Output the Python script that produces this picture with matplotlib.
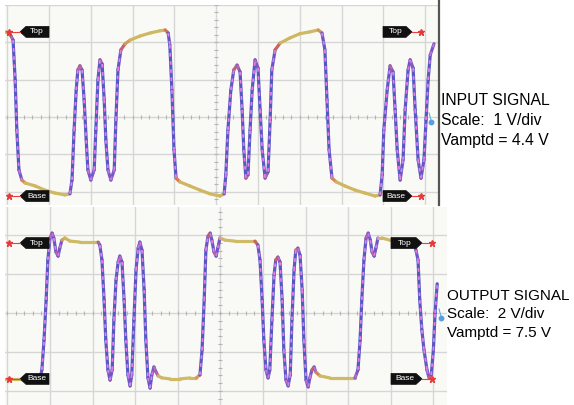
import numpy as np
import matplotlib.pyplot as plt
from matplotlib.collections import LineCollection
from matplotlib.colors import LinearSegmentedColormap, to_rgba
from matplotlib.patches import Polygon
from matplotlib.lines import Line2D
from matplotlib.transforms import IdentityTransform

# input trace: time in divisions, volts (1 V/div)
in_t = [-0.05, 0.02, 0.09, 0.14, 0.19, 0.23, 0.28, 0.35, 0.43, 0.67, 0.90, 1.14, 1.38, 1.50,
        1.55, 1.60, 1.65, 1.69, 1.74, 1.79, 1.84, 1.89, 1.93, 2.00, 2.08, 2.12, 2.17, 2.22,
        2.27, 2.32, 2.36, 2.41, 2.48, 2.56, 2.60, 2.65, 2.72, 2.82, 2.94, 3.18, 3.42, 3.66,
        3.78, 3.85, 3.89, 3.94, 3.99, 4.04, 4.13, 4.37, 4.61, 4.85, 5.09, 5.19, 5.23, 5.28,
        5.35, 5.42, 5.50, 5.57, 5.62, 5.66, 5.71, 5.76, 5.81, 5.86, 5.93, 6.00, 6.05, 6.10,
        6.17, 6.24, 6.29, 6.33, 6.41, 6.53, 6.77, 7.00, 7.24, 7.44, 7.53, 7.60, 7.65, 7.70,
        7.77, 7.87, 8.08, 8.32, 8.56, 8.80, 8.92, 8.97, 9.01, 9.09, 9.16, 9.23, 9.28, 9.33,
        9.40, 9.47, 9.52, 9.59, 9.64, 9.71, 9.76, 9.83, 9.90, 9.97, 10.02, 10.07, 10.12, 10.21]
in_v = [2.28, 2.25, 2.17, 2.06, 0.99, -0.35, -1.42, -1.69, -1.77, -1.85, -1.96, -2.04, -2.09, -2.06,
        -1.69, -0.35, 0.72, 1.26, 1.37, 1.26, 0.46, -0.62, -1.42, -1.69, -1.42, -0.35, 0.99, 1.53,
        1.42, 0.46, -0.62, -1.42, -1.69, -1.42, -0.08, 1.26, 1.80, 1.96, 2.06, 2.17, 2.25, 2.31,
        2.33, 2.25, 1.93, 0.72, -0.88, -1.64, -1.74, -1.85, -1.96, -2.06, -2.12, -2.06, -1.55, -0.35,
        0.72, 1.26, 1.39, 1.21, 0.19, -0.88, -1.64, -1.55, -0.35, 0.72, 1.53, 1.31, 0.19, -0.88,
        -1.64, -1.47, -0.08, 1.26, 1.80, 1.98, 2.12, 2.23, 2.28, 2.33, 2.25, 1.80, 0.46, -0.88,
        -1.64, -1.74, -1.85, -1.96, -2.04, -2.12, -2.09, -1.55, -0.35, 0.72, 1.37, 1.21, 0.19, -0.88,
        -1.69, -1.15, 0.19, 1.26, 1.53, 1.31, 0.19, -1.15, -1.64, -1.15, -0.08, 0.99, 1.66, 1.96]

# output trace: time in divisions, volts (2 V/div)
out_t = [-0.06, 0.53, 0.77, 0.81, 0.86, 0.91, 0.95, 1.00, 1.05, 1.09, 1.14, 1.19, 1.23, 1.28,
         1.35, 1.47, 1.70, 1.94, 2.13, 2.17, 2.22, 2.27, 2.31, 2.36, 2.41, 2.46, 2.50, 2.55,
         2.60, 2.64, 2.69, 2.74, 2.78, 2.83, 2.88, 2.92, 2.97, 3.02, 3.07, 3.11, 3.16, 3.21,
         3.25, 3.30, 3.35, 3.39, 3.44, 3.49, 3.54, 3.63, 3.82, 4.05, 4.29, 4.43, 4.52, 4.57,
         4.62, 4.66, 4.71, 4.76, 4.80, 4.85, 4.90, 4.94, 4.99, 5.11, 5.34, 5.58, 5.81, 5.88,
         5.93, 5.98, 6.02, 6.07, 6.12, 6.16, 6.21, 6.26, 6.30, 6.35, 6.40, 6.45, 6.49, 6.54,
         6.59, 6.64, 6.68, 6.73, 6.77, 6.82, 6.87, 6.92, 6.96, 7.01, 7.06, 7.10, 7.15, 7.20,
         7.24, 7.34, 7.57, 7.81, 8.04, 8.16, 8.23, 8.28, 8.32, 8.37, 8.42, 8.47, 8.52, 8.56,
         8.61, 8.65, 8.70, 8.79, 8.98, 9.45, 9.54, 9.59, 9.64, 9.68, 9.73, 9.78, 9.85, 9.90,
         9.95, 10.00, 10.04, 10.09]
out_v = [-3.38, -3.38, -3.33, -2.92, -1.38, 0.67, 2.72, 3.85, 4.10, 3.85, 3.13, 2.92, 3.33, 3.74,
         3.85, 3.69, 3.64, 3.64, 3.64, 3.49, 2.72, 0.67, -1.38, -2.92, -3.44, -2.92, -0.36, 1.69,
         2.62, 2.92, 2.62, 0.67, -1.38, -3.18, -3.74, -3.18, -0.36, 2.21, 3.33, 3.64, 3.23, 1.18,
         -1.38, -3.33, -3.85, -3.18, -2.77, -3.03, -3.23, -3.33, -3.38, -3.38, -3.33, -3.33, -3.18, -1.90,
         0.67, 3.23, 3.95, 4.10, 3.74, 3.13, 2.92, 3.33, 3.85, 3.74, 3.69, 3.69, 3.69, 3.49,
         2.72, 0.67, -1.38, -2.92, -3.33, -2.92, -0.36, 1.95, 2.72, 2.87, 2.62, 0.67, -1.90, -3.44,
         -3.74, -3.18, -0.36, 2.21, 3.23, 3.33, 2.97, 1.18, -1.38, -3.44, -3.79, -3.33, -2.92, -2.77,
         -3.03, -3.23, -3.33, -3.33, -3.33, -3.33, -2.92, -1.38, 0.67, 2.72, 3.85, 4.10, 3.74, 3.13,
         2.92, 3.33, 3.85, 3.85, 3.74, 3.74, 3.64, 3.23, 2.72, 0.67, -0.87, -1.90, -2.92, -3.33,
         -3.18, -1.90, 0.0, 1.50]

level_names = ['Top', 'Base']
in_levels = [2.28, -2.12]
out_levels = [3.59, -3.38]
in_text = ['INPUT SIGNAL', 'Scale:  1 V/div', 'Vamptd = 4.4 V']
out_text = ['OUTPUT SIGNAL', 'Scale:  2 V/div', 'Vamptd = 7.5 V']

W, H = 574, 405
plt.rcParams['font.family'] = ['Liberation Sans', 'DejaVu Sans']
fig = plt.figure(figsize=(W / 100, H / 100), dpi=100)
PX = IdentityTransform()


def px_axes(x0, y0, x1, y1):
    # pixel box measured from the top left corner
    return fig.add_axes([x0 / W, 1 - y1 / H, (x1 - x0) / W, (y1 - y0) / H])


def scope(ax, vdiv, xlim, ylim):
    ax.set_facecolor('#f9faf6')
    ax.set_xticks(np.arange(0, 11))
    ax.set_yticks(np.arange(-3, 4) * vdiv)
    ax.grid(True, color='#d6d6d6', lw=1.0)
    ax.tick_params(length=0, labelbottom=False, labelleft=False)
    for s in ax.spines.values():
        s.set_visible(False)
    xs = np.arange(0, 10.01, 0.2)
    ax.plot(xs, np.zeros_like(xs), ls='none', marker='|', ms=3.5, mew=0.8, color='#b4b4b4')
    ys = np.arange(-3, 3.01, 0.2) * vdiv
    ax.plot(np.full_like(ys, 5.0), ys, ls='none', marker='_', ms=3.5, mew=0.8, color='#b4b4b4')
    # limits last, ticks outside the view would otherwise widen it
    ax.set_xlim(*xlim)
    ax.set_ylim(*ylim)


cmap = LinearSegmentedColormap.from_list('persist', [
    (0.0, '#cfbb66'), (0.35, '#d0b45e'), (0.55, '#d8664e'), (0.8, '#7b58c8'), (1.0, '#4d58c6')])


def trace(ax, t, v):
    t = np.asarray(t)
    v = np.asarray(v)
    pts = ax.transData.transform(np.column_stack([t, v]))
    d = np.diff(pts, axis=0)
    steep = np.degrees(np.arctan2(np.abs(d[:, 1]), np.abs(d[:, 0]))) / 90
    segs = np.stack([np.column_stack([t[:-1], v[:-1]]), np.column_stack([t[1:], v[1:]])], axis=1)
    ax.add_collection(LineCollection(segs, colors=cmap(steep), lw=2.3, capstyle='round',
                                     joinstyle='round'))
    over = [to_rgba('#e57de2', a) for a in np.clip((steep - 0.6) / 0.3, 0, 1)]
    ax.add_collection(LineCollection(segs, colors=over, lw=1.3, linestyles=[(0, (2, 2.5))]))


def tag(ax, level, name, tip, body, mark):
    # tip/body/mark are pixel x positions, level is in data units
    y = ax.transData.transform((0, level))[1]
    sgn = 1 if body > tip else -1
    verts = [(tip, y), (tip + sgn * 6, y - 5.5), (body, y - 5.5), (body, y + 5.5), (tip + sgn * 6, y + 5.5)]
    fig.add_artist(Polygon(verts, closed=True, transform=PX, fc='#111111', ec='#111111', lw=0.5, zorder=5))
    fig.text((tip + body) / 2 + sgn * 2, y, name, transform=PX, color='white', fontsize=6,
             ha='center', va='center', zorder=6)
    fig.add_artist(Line2D([tip, mark], [y, y], transform=PX, color='#e84040', lw=0.8, zorder=5))
    fig.add_artist(Line2D([mark], [y], transform=PX, marker='*', ms=5, color='#e63a3a', zorder=5))


def ground(ax, dx):
    x = ax.get_window_extent().x1 - dx
    y = ax.transData.transform((0, 0))[1]
    fig.add_artist(Line2D([x - 2, x], [y + 4, y - 3], transform=PX, color='#6aa8e0', lw=0.8, zorder=5))
    fig.add_artist(Line2D([x], [y - 5], transform=PX, marker='o', ms=3.2, color='#5a9ee0', zorder=5))


ax_in = px_axes(5, 5, 439, 205)
ax_out = px_axes(5, 207, 447, 405)
scope(ax_in, 1, (-0.053, 10.33), (-2.36, 3.0))
scope(ax_out, 2, (-0.056, 10.32), (-4.72, 5.44))
trace(ax_in, in_t, in_v)
trace(ax_out, out_t, out_v)

for ax, levels, right in [(ax_in, in_levels, (412, 383, 421)), (ax_out, out_levels, (422, 391, 432))]:
    for lev, name in zip(levels, level_names):
        tag(ax, lev, name, 20, 49, 9)
        tag(ax, lev, name, *right)

ground(ax_in, 8)
ground(ax_out, 6)

# dark right border of the input screenshot
fig.add_artist(Line2D([439, 439], [H, H - 205], transform=PX, color='#555555', lw=1.6, zorder=6))

for i, s in enumerate(in_text):
    fig.text(441, H - (105 + 20 * i), s, transform=PX, fontsize=11.3, va='baseline')
for i, s in enumerate(out_text):
    fig.text(447, H - (300 + 18.5 * i), s, transform=PX, fontsize=11, va='baseline')

fig.savefig('out.png', dpi=100)
